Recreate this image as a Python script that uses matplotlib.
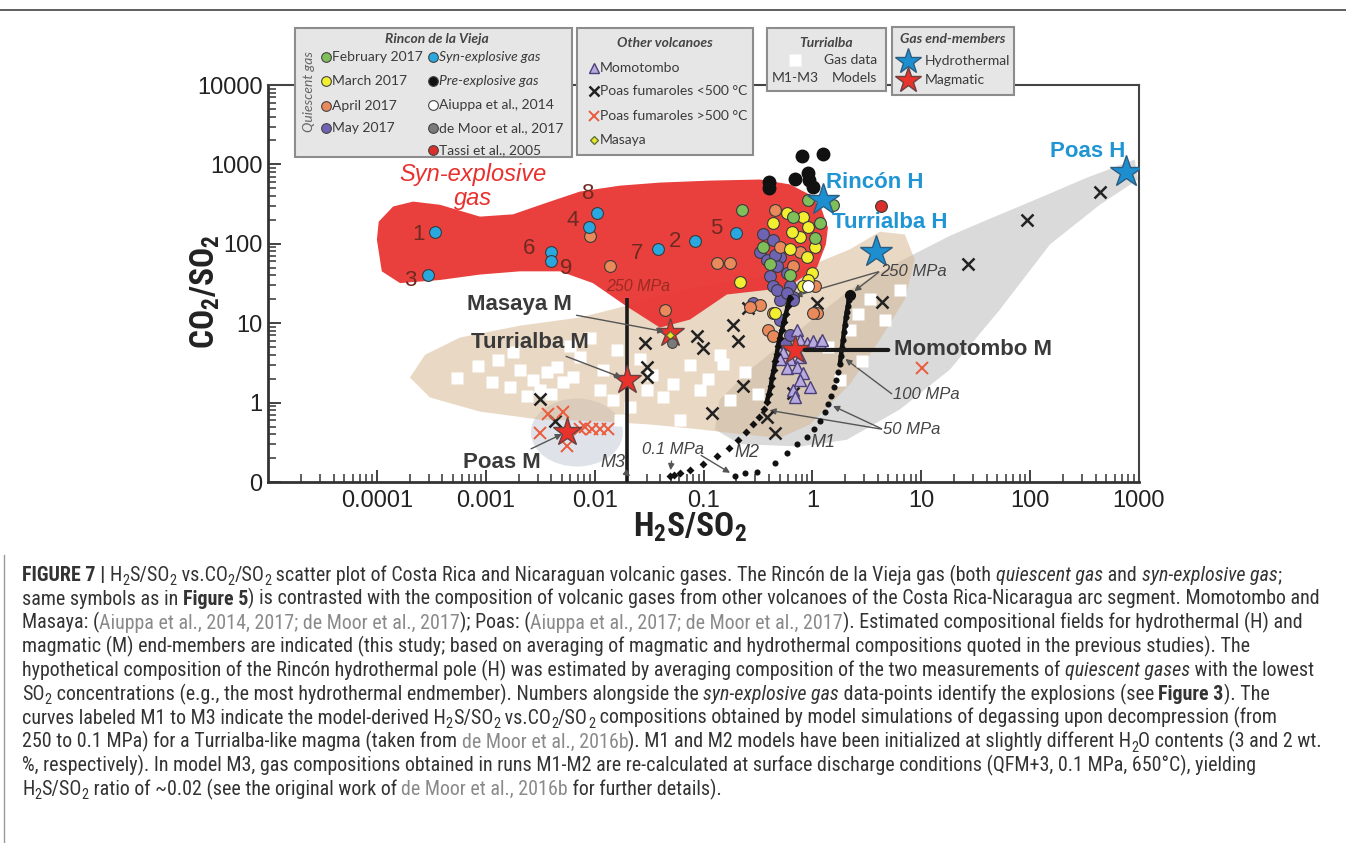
#!/bin/env python3
import re
import matplotlib
matplotlib.use('Agg')
import matplotlib.pyplot as plt
from matplotlib.lines import Line2D
from matplotlib.patches import Polygon, Rectangle, Ellipse
from matplotlib.ticker import FixedLocator, FixedFormatter, LogLocator, NullFormatter
from matplotlib import transforms, font_manager

W, H = 1346, 843

# ---------------- axis ticks ----------------
x_ticks = [1e-4, 1e-3, 1e-2, 1e-1, 1, 10, 100, 1000]
x_tick_labels = ['0.0001', '0.001', '0.01', '0.1', '1', '10', '100', '1000']
y_ticks = [0.1, 1, 10, 100, 1000, 10000]
y_tick_labels = ['0', '1', '10', '100', '1000', '10000']

# ---------------- compositional fields (outlines, H2S/SO2 vs CO2/SO2) ----------------
gray_x = [915, 332, 123, 36.8, 18.3, 6.36, 2.21, 0.767, 0.267, 0.141, 0.127, 0.216, 0.767, 2.07,
          6.36, 18.3, 52.7, 152, 436, 975]
gray_y = [1150, 680, 380, 190, 126, 60, 26.5, 8.3, 2.6, 1.09, 0.46, 0.30, 0.28, 0.34,
          0.82, 2.6, 14.8, 98, 310, 645]
tan_x = [2.01e-4, 2.77e-4, 5.8e-4, 2.06e-3, 7.33e-3, 0.0211, 0.0607, 0.216, 0.767, 2.21, 4.17, 7.07,
         8.73, 7.07, 4.17, 2.21, 0.949, 0.503, 0.216, 0.0927, 0.0322, 0.0112, 3.15e-3, 8.85e-4, 3.07e-4]
tan_y = [2.07, 4.0, 6.6, 9.3, 11.8, 17, 26, 35, 47, 85, 142, 131,
         63, 20, 6.2, 1.7, 0.53, 0.36, 0.40, 0.46, 0.53, 0.58, 0.61, 0.77, 1.16]
red_x = [1.0e-4, 1.04e-4, 1.41e-4, 2.15e-4, 3.8e-4, 8.85e-4, 1.78e-3, 3.65e-3, 7.33e-3, 0.0171,
         0.0398, 0.115, 0.330, 0.621, 0.949, 1.22, 1.39, 1.33, 1.10, 0.583, 0.164, 0.075, 0.0398,
         0.0198, 9.64e-3, 4.8e-3, 2.06e-3, 8.85e-4, 3.8e-4, 1.63e-4, 1.11e-4]
red_y = [113, 190, 295, 340, 310, 220, 235, 330, 455, 540,
         590, 625, 645, 560, 415, 270, 160, 98, 50, 28, 23, 11.1, 8.8,
         16.2, 32, 45, 45, 41, 35, 32, 45]
poas_m_field = (6.88e-3, 0.42)

# ---------------- Turrialba gas data ----------------
turri_x = [5.43e-4, 1.14e-3, 1.67e-3, 1.78e-3, 2.06e-3, 2.71e-3, 3.15e-3, 3.65e-3, 4.51e-3, 5.11e-3,
           6.32e-3, 7.33e-3, 9.06e-3, 0.0112, 0.0147, 0.0211, 0.0261, 0.0302, 0.0424, 0.075,
           0.0927, 0.141, 0.175, 0.240, 2.21, 3.37, 4.63, 6.36, 2.85, 1.79, 0.0607, 0.0171,
           8.5e-4, 1.3e-3, 2.4e-3, 4.0e-3, 6.0e-3, 0.012, 0.016, 0.034, 0.052, 0.11, 0.15, 0.32, 1.4, 2.6]
turri_y = [2.07, 1.84, 1.55, 4.3, 2.6, 1.95, 1.46, 2.4, 2.8, 1.8,
           2.1, 3.8, 6.6, 1.46, 1.09, 0.89, 3.5, 1.46, 1.19, 3.0,
           1.46, 4.0, 1.09, 2.45, 8.3, 20, 11.1, 26, 3.3, 1.95, 0.61, 0.61,
           2.9, 3.4, 1.2, 1.3, 5.2, 2.6, 4.6, 2.2, 1.7, 2.0, 3.1, 1.3, 5.0, 13]

# ---------------- Rincon de la Vieja ----------------
feb_x = [0.91, 1.54, 1.17, 0.662, 0.225, 1.05, 0.351, 0.407, 0.621]
feb_y = [360, 310, 185, 220, 270, 120, 92, 55, 41]
mar_x = [0.583, 0.434, 0.818, 0.91, 0.767, 1.05, 0.89, 0.99, 0.91, 0.216, 0.621, 0.453, 0.818, 0.648]
mar_y = [246, 185, 220, 165, 123, 92, 69, 43, 35, 33, 85, 13.5, 29, 142]
apr_x = [0.453, 0.503, 0.767, 0.662, 1.05, 1.10, 0.133, 0.175, 0.0138, 9.06e-3, 0.0442, 0.330,
         0.434, 0.390, 0.434, 0.267, 1.01]
apr_y = [270, 92, 78, 52, 29, 13.6, 58, 58, 52, 126, 14.8, 17,
         13.6, 8.3, 6.8, 15.8, 13.6]
may_x = [0.351, 0.434, 0.330, 0.382, 0.503, 0.472, 0.583, 0.407, 0.621, 0.434, 0.662, 0.503,
         0.284, 0.472, 0.583, 0.503, 0.662, 0.559, 0.621, 0.453]
may_y = [131, 113, 78, 63, 69, 52, 43, 39, 29, 29, 21.6, 19.8,
         18, 26, 24, 11.1, 19.8, 5.4, 7.2, 73]
syn_x = [3.41e-4, 2.94e-4, 3.97e-3, 3.97e-3, 8.87e-3, 0.0105, 0.0381, 0.0834, 0.199]
syn_y = [142, 41, 78, 60, 165, 247, 85, 107, 138]
syn_lab = ['1', '3', '6', '9', '4', '8', '7', '2', '5']
pre_x = [0.399, 0.399, 0.801, 1.25, 0.69, 0.91, 0.93, 1.01]
pre_y = [605, 510, 1290, 1370, 660, 790, 645, 525]
aiuppa_x, aiuppa_y = [0.91], [29]
demoor_x, demoor_y = [0.0513], [5.7]
tassi_x, tassi_y = [4.26], [300]

# ---------------- other volcanoes ----------------
momo_x = [0.721, 0.767, 0.89, 1.01, 1.17, 1.22, 0.536, 0.621, 0.767, 0.583, 0.721, 0.818,
          0.767, 0.949, 0.662, 0.69, 0.503]
momo_y = [8.3, 6.2, 5.7, 5.9, 5.7, 6.2, 4.3, 3.5, 3.8, 2.76, 2.84, 2.39,
          1.95, 1.55, 1.46, 1.19, 3.5]
poas_lo_x = [26.8, 93, 436, 4.35, 1.10, 0.256, 0.186, 0.0869, 0.0987, 0.207, 0.029, 0.0302,
             0.0302, 0.230, 0.119, 0.382, 0.453, 3.15e-3, 4.32e-3, 0.662]
poas_lo_y = [56, 200, 455, 18.7, 18.2, 15.7, 9.6, 6.8, 4.9, 5.9, 5.7, 2.8,
             2.1, 1.6, 0.75, 0.65, 0.42, 1.1, 0.58, 1.34]
poas_hi_x = [3.72e-3, 5.11e-3, 3.15e-3, 5.57e-3, 7.33e-3, 8.15e-3, 9.45e-3, 0.0112, 0.0132, 10.1]
poas_hi_y = [0.71, 0.77, 0.42, 0.28, 0.46, 0.50, 0.46, 0.47, 0.46, 2.75]
masaya_x, masaya_y = [0.049], [7.2]

# ---------------- degassing models ----------------
m1_x = [2.21, 2.16, 2.12, 2.07, 2.03, 1.99, 1.95, 1.91, 1.87, 1.83, 1.79, 1.72, 1.64, 1.58,
        1.48, 1.39, 1.30, 1.17, 1.03, 0.89, 0.721, 0.583, 0.453, 0.309, 0.240, 0.194]
m1_y = [22.9, 19.8, 16.7, 14.0, 11.8, 9.6, 7.8, 6.2, 4.9, 3.9, 3.1, 2.46, 1.95, 1.55,
        1.22, 0.97, 0.77, 0.59, 0.46, 0.37, 0.30, 0.23, 0.175, 0.135, 0.128, 0.12]
m2_x = [0.621, 0.596, 0.571, 0.547, 0.525, 0.503, 0.482, 0.472, 0.453, 0.443, 0.425, 0.416,
        0.399, 0.382, 0.359, 0.323, 0.284, 0.245, 0.207, 0.171, 0.133, 0.0987, 0.075, 0.0607,
        0.0534, 0.0491]
m2_y = [21, 16.7, 13.2, 10.5, 8.3, 6.6, 5.2, 4.1, 3.3, 2.6, 2.07, 1.64,
        1.30, 1.03, 0.82, 0.65, 0.53, 0.43, 0.34, 0.27, 0.215, 0.17, 0.143, 0.131,
        0.124, 0.12]
m3_x = [0.0198, 0.0198]
m3_y = [21, 0.1]

# ---------------- end-members ----------------
hydro_names = ['Rincón H', 'Turrialba H', 'Poas H']
hydro_x = [1.25, 3.83, 757]
hydro_y = [360, 78, 810]
magma_names = ['Masaya M', 'Turrialba M', 'Poas M', 'Momotombo M']
magma_x = [0.0491, 0.0198, 5.57e-3, 0.69]
magma_y = [7.6, 1.95, 0.43, 4.6]

# ---------------- fonts ----------------
fl = font_manager.fontManager.ttflist
names = {f.name for f in fl}
LEG = 'Lato' if 'Lato' in names else 'DejaVu Sans'
CAP_FAMILY, CAP_STRETCH = 'Liberation Sans', 'normal'
for want in ['Liberation Sans Narrow', 'Roboto Condensed', 'Open Sans Condensed', 'Noto Sans Condensed']:
    if want in names:
        CAP_FAMILY = want
        break
else:
    for f in fl:
        if f.name in ('Noto Sans', 'Roboto', 'Open Sans', 'Liberation Sans') and \
                isinstance(f.stretch, str) and f.stretch in ('condensed', 'semi-condensed'):
            CAP_FAMILY, CAP_STRETCH = f.name, f.stretch
            break

plt.rcParams['font.family'] = ['Liberation Sans', 'DejaVu Sans']
plt.rcParams['mathtext.fontset'] = 'custom'
pat = CAP_FAMILY + ('' if CAP_STRETCH == 'normal' else ':stretch=' + CAP_STRETCH)
plt.rcParams['mathtext.rm'] = pat
plt.rcParams['mathtext.it'] = pat + ':italic'
plt.rcParams['mathtext.bf'] = pat + ':bold'

DARK = '#333333'
fig = plt.figure(figsize=(W / 100, H / 100), dpi=100, facecolor='white')
ax = fig.add_axes([268 / W, 1 - 482 / H, (1139 - 268) / W, (482 - 85) / H])
ax.set_xscale('log')
ax.set_yscale('log')
ax.set_xlim(1e-5, 1e3)
ax.set_ylim(0.1, 1e4)

# fields
ax.add_patch(Polygon(list(zip(gray_x, gray_y)), closed=True, fc='#dadada', ec='none', zorder=1))
ell = Ellipse((0, 0), 0.92, 0.68, fc='#dfe3e9', ec='none', zorder=1.2,
              transform=fig.dpi_scale_trans + transforms.ScaledTranslation(*poas_m_field, ax.transData))
ax.add_patch(ell)
ax.add_patch(Polygon(list(zip(tan_x, tan_y)), closed=True, fc='#d8b994', ec='none', alpha=0.55, zorder=2))
ax.add_patch(Polygon(list(zip(red_x, red_y)), closed=True, fc='#e8312f', ec='none', alpha=0.93, zorder=3))

ax.text(7.6e-4, 525, 'Syn-explosive\ngas', color='#e8312f', fontsize=17, style='italic',
        ha='center', va='center', linespacing=1.05, zorder=4)
ax.text(0.025, 29, '250 MPa', color='#9a2a22', fontsize=11.5, style='italic', ha='center',
        va='center', zorder=3.5)

ax.plot(turri_x, turri_y, 's', ms=8, color='white', mec='none', zorder=4)

# models
ax.plot(m3_x, m3_y, color='#1a1a1a', lw=2.6, zorder=5, solid_capstyle='butt')
ax.plot(m1_x[:11], m1_y[:11], color='#111', lw=3.2, zorder=7)
ax.plot(m1_x, m1_y, 'o', ms=4.4, color='#111', mec='none', zorder=7)
ax.plot(m1_x[:1], m1_y[:1], 'o', ms=7, color='#111', zorder=7)
ax.plot(m2_x[:14], m2_y[:14], color='#111', lw=3.2, zorder=7)
ax.plot(m2_x, m2_y, 'D', ms=4.4, color='#111', mec='none', zorder=7)

# data
ek = dict(mec='#3a3a3a', mew=0.8, ms=8.5, ls='none', zorder=6)
ax.plot(poas_lo_x, poas_lo_y, 'x', color='#222', ms=8, mew=1.8, ls='none', zorder=6)
ax.plot(poas_hi_x, poas_hi_y, 'x', color='#ec5a3c', ms=8, mew=1.4, ls='none', zorder=6)
ax.plot(may_x, may_y, 'o', color='#6f63b3', **ek)
ax.plot(apr_x, apr_y, 'o', color='#ea8a5a', **ek)
ax.plot(mar_x, mar_y, 'o', color='#f2ee30', **ek)
ax.plot(feb_x, feb_y, 'o', color='#7fbf5a', **ek)
ax.plot(momo_x, momo_y, '^', color='#b6aadf', mec='#4b3f7a', mew=1, ms=8.5, ls='none', zorder=6.5)
ax.plot(aiuppa_x, aiuppa_y, 'o', color='white', **ek)
ax.plot(pre_x, pre_y, 'o', color='#111', mec='#111', ms=9, ls='none', zorder=6)
ax.plot(syn_x, syn_y, 'o', color='#29a8e0', **ek)
ax.plot(tassi_x, tassi_y, 'o', color='#d9302c', **ek)
offsets = {'1': (-12, -2), '3': (-13, -4), '6': (-16, 3), '9': (11, -5), '4': (-12, 4),
           '8': (-6, 14), '7': (-15, -3), '2': (-14, 0), '5': (-14, 3)}
for x, y, s in zip(syn_x, syn_y, syn_lab):
    ax.annotate(s, (x, y), xytext=offsets[s], textcoords='offset points', color='#6e2a20',
                fontsize=16, ha='center', va='center', zorder=6)

# end-members
ax.plot(magma_x, magma_y, '*', ms=21, color='#e8322b', mec='#6b4040', mew=1, ls='none', zorder=8)
ax.plot(masaya_x, masaya_y, 'D', ms=4, color='#e6e62a', mec='#556b2f', mew=0.8, zorder=8.5)
ax.plot(demoor_x, demoor_y, 'o', color='#7a7a7a', mec='#444', mew=0.8, ms=7, zorder=8.5)
ax.plot(hydro_x, hydro_y, '*', ms=24, color='#1d8fd0', mec='#2b5d80', mew=1, ls='none', zorder=8)

# labels
blue = '#1f95d4'
for s, pos in zip(hydro_names, [(3.75, 590), (5.15, 185), (339, 1450)]):
    ax.text(*pos, s, color=blue, fontsize=16, weight='bold', ha='center', va='center', zorder=9)

arr = dict(arrowstyle='-|>', color='#555', lw=1, mutation_scale=9, shrinkA=1, shrinkB=4)
lab = dict(fontsize=16, weight='bold', color='#3a3a3a', ha='center', va='center', zorder=9)
ax.annotate('Masaya M', (magma_x[0], magma_y[0]), xytext=(2.06e-3, 17.1), arrowprops=arr, **lab)
ax.annotate('Turrialba M', (magma_x[1], magma_y[1]), xytext=(2.55e-3, 5.7), arrowprops=arr, **lab)
ax.annotate('Poas M', (magma_x[2], magma_y[2]), xytext=(1.41e-3, 0.175), arrowprops=arr, **lab)
ax.annotate('Momotombo M', (magma_x[3], magma_y[3]), xytext=(5.6, 4.6),
            arrowprops=dict(arrowstyle='-', color='#1a1a1a', lw=3, shrinkA=2, shrinkB=7),
            **{**lab, 'ha': 'left'})

it = dict(fontsize=12, style='italic', color='#444', va='center', zorder=9)
ax.text(4.17, 45, '250 MPa', ha='left', **it)
ax.annotate('', (m2_x[0], m2_y[0]), xytext=(4.17, 45), arrowprops=arr)
ax.annotate('', (m1_x[0], m1_y[0]), xytext=(4.17, 45), arrowprops=arr)
ax.text(5.48, 1.26, '100 MPa', ha='left', **it)
ax.annotate('', (m1_x[9], m1_y[9]), xytext=(5.48, 1.26), arrowprops=arr)
ax.text(4.44, 0.46, '50 MPa', ha='left', **it)
ax.annotate('', (m2_x[14], m2_y[14]), xytext=(4.44, 0.46), arrowprops=arr)
ax.annotate('', (m1_x[15], m1_y[15]), xytext=(4.44, 0.46), arrowprops=arr)
ax.annotate('0.1 MPa', (m2_x[-1], m2_y[-1]), xytext=(0.0524, 0.257), ha='center', arrowprops=arr, **it)
ax.annotate('', (m1_x[-1], m1_y[-1]), xytext=(0.0927, 0.221), arrowprops=arr)
it2 = {**it, 'fontsize': 13}
ax.annotate('M3', (0.0212, 0.118), xytext=(0.0147, 0.175), ha='center', arrowprops=arr, **it2)
ax.text(0.250, 0.234, 'M2', ha='center', **it2)
ax.text(1.25, 0.31, 'M1', ha='center', **it2)

# axes styling
for side in ['left', 'bottom']:
    ax.spines[side].set_linewidth(2)
    ax.spines[side].set_color(DARK)
for side in ['top', 'right']:
    ax.spines[side].set_linewidth(1.5)
    ax.spines[side].set_color('#444')
ax.xaxis.set_major_locator(FixedLocator(x_ticks))
ax.xaxis.set_major_formatter(FixedFormatter(x_tick_labels))
ax.yaxis.set_major_locator(FixedLocator(y_ticks))
ax.yaxis.set_major_formatter(FixedFormatter(y_tick_labels))
for a in [ax.xaxis, ax.yaxis]:
    a.set_minor_locator(LogLocator(base=10, subs=range(2, 10), numticks=20))
    a.set_minor_formatter(NullFormatter())
ax.tick_params(which='major', direction='in', length=9, width=1.3, color=DARK, labelsize=17,
               labelcolor='#222')
ax.tick_params(which='minor', direction='in', length=5.5, width=1.1, color=DARK)
ax.tick_params(axis='x', pad=6)
ax.tick_params(axis='y', pad=4)
ax.set_xlabel(r'$\mathbf{H_2S/SO_2}$', fontsize=24, color='#222', va='center')
ax.xaxis.set_label_coords((690 - 268) / 871, (482 - 527) / 397)
ax.set_ylabel(r'$\mathbf{CO_2/SO_2}$', fontsize=24, color='#222', va='center')
ax.yaxis.set_label_coords((205 - 268) / 871, (482 - 292) / 397)


# ---------------- legend panels (figure pixels) ----------------
def fx(px):
    return px / W


def fy(py):
    return 1 - py / H


def box(x0, y0, x1, y1):
    fig.add_artist(Rectangle((fx(x0), fy(y1)), (x1 - x0) / W, (y1 - y0) / H, transform=fig.transFigure,
                             fc='#e6e6e6', ec='#8c8c8c', lw=1.5, zorder=20))


def mark(px, py, **kw):
    fig.add_artist(Line2D([fx(px)], [fy(py)], transform=fig.transFigure, ls='none', zorder=21, **kw))


def label(px, py, s, **kw):
    kw.setdefault('fontsize', 10)
    kw.setdefault('color', '#3a3a3a')
    fig.text(fx(px), fy(py), s, va='center', family=[LEG, 'DejaVu Sans'], zorder=22, **kw)


title = dict(weight='bold', style='italic', ha='center', color='#444')
box(295, 28, 572, 157)
label(437, 39, 'Rincon de la Vieja', **title)
label(309, 92, 'Quiescent gas', rotation=90, ha='center', style='italic', color='#666')
col1 = [('February 2017', '#7fbf5a'), ('March 2017', '#f2ee30'), ('April 2017', '#ea8a5a'),
        ('May 2017', '#6f63b3')]
for (s, c), py in zip(col1, [57, 81, 106, 128]):
    mark(326, py, marker='o', ms=7, color=c, mec='#444', mew=0.8)
    label(332, py, s)
col2 = [('Syn-explosive gas', '#29a8e0', True), ('Pre-explosive gas', '#111', True),
        ('Aiuppa et al., 2014', 'white', False), ('de Moor et al., 2017', '#7a7a7a', False),
        ('Tassi et al., 2005', '#d9302c', False)]
for (s, c, itl), py in zip(col2, [57, 81, 105, 128, 150]):
    mark(433, py, marker='o', ms=7, color=c, mec='#444', mew=0.8)
    label(439, py, s, style='italic' if itl else 'normal')

box(577, 28, 753, 155)
label(665, 43, 'Other volcanoes', **title)
mark(594, 68, marker='^', ms=7.5, color='#b6aadf', mec='#4b3f7a', mew=1)
label(600, 68, 'Momotombo')
mark(594, 91, marker='x', ms=7, color='#222', mew=1.8)
label(600, 91, 'Poas fumaroles <500 °C')
mark(594, 116, marker='x', ms=7, color='#ec5a3c', mew=1.4)
label(600, 116, 'Poas fumaroles >500 °C')
mark(594, 140, marker='D', ms=4.5, color='#e6e62a', mec='#556b2f', mew=0.9)
label(600, 140, 'Masaya')

box(767, 28, 886, 91)
label(826, 43, 'Turrialba', **title)
mark(795, 60, marker='s', ms=8, color='white', mec='none')
label(877, 60, 'Gas data', ha='right')
label(772, 78, 'M1-M3')
label(877, 78, 'Models', ha='right')

box(892, 27, 1014, 95)
label(953, 39, 'Gas end-members', **title)
mark(908, 61, marker='*', ms=19, color='#1d8fd0', mec='#2b5d80', mew=1)
label(925, 61, 'Hydrothermal')
mark(908, 80, marker='*', ms=19, color='#e8322b', mec='#6b4040', mew=1)
label(925, 80, 'Magmatic')

# frame lines
fig.add_artist(Line2D([0, 1], [fy(10), fy(10)], transform=fig.transFigure, color='#444', lw=1.2))
fig.add_artist(Line2D([fx(4), fx(4)], [0, fy(555)], transform=fig.transFigure, color='#999', lw=1))

# ---------------- caption ----------------
N = dict(color='#333')
B = dict(color='#333', weight='bold')
I = dict(color='#333', style='italic')
G = dict(color='#8a8a8a')
caption = [
    [('FIGURE 7 | ', B), ('H_{2}S/SO_{2} vs.CO_{2}/SO_{2} scatter plot of Costa Rica and Nicaraguan volcanic '
                          'gases. The Rincón de la Vieja gas (both ', N), ('quiescent gas', I), (' and ', N),
     ('syn-explosive gas', I), (';', N)],
    [('same symbols as in ', N), ('Figure 5', B),
     (') is contrasted with the composition of volcanic gases from other volcanoes of the Costa '
      'Rica-Nicaragua arc segment. Momotombo and', N)],
    [('Masaya: (', N), ('Aiuppa et al., 2014, 2017; de Moor et al., 2017', G), ('); Poas: (', N),
     ('Aiuppa et al., 2017; de Moor et al., 2017', G),
     ('). Estimated compositional fields for hydrothermal (H) and', N)],
    [('magmatic (M) end-members are indicated (this study; based on averaging of magmatic and '
      'hydrothermal compositions quoted in the previous studies). The', N)],
    [('hypothetical composition of the Rincón hydrothermal pole (H) was estimated by averaging '
      'composition of the two measurements of ', N), ('quiescent gases', I), (' with the lowest', N)],
    [('SO_{2} concentrations (e.g., the most hydrothermal endmember). Numbers alongside the ', N),
     ('syn-explosive gas', I), (' data-points identify the explosions (see ', N), ('Figure 3', B),
     ('). The', N)],
    [('curves labeled M1 to M3 indicate the model-derived H_{2}S/SO_{2} vs.CO_{2}/SO_{2} compositions '
      'obtained by model simulations of degassing upon decompression (from', N)],
    [('250 to 0.1 MPa) for a Turrialba-like magma (taken from ', N), ('de Moor et al., 2016b', G),
     ('). M1 and M2 models have been initialized at slightly different H_{2}O contents (3 and 2 wt.', N)],
    [('%, respectively). In model M3, gas compositions obtained in runs M1-M2 are re-calculated at '
      'surface discharge conditions (QFM+3, 0.1 MPa, 650°C), yielding', N)],
    [('H_{2}S/SO_{2} ratio of ~0.02 (see the original work of ', N), ('de Moor et al., 2016b', G),
     (' for further details).', N)],
]

renderer = fig.canvas.get_renderer()
CAP = dict(family=[CAP_FAMILY, 'DejaVu Sans'], stretch=CAP_STRETCH)


def advance(s, size, kw):
    t1 = fig.text(0, 0, s + '|', fontsize=size, **CAP, **kw)
    t2 = fig.text(0, 0, '|', fontsize=size, **CAP, **kw)
    w = t1.get_window_extent(renderer).width - t2.get_window_extent(renderer).width
    t1.remove()
    t2.remove()
    return w


def run_line(x, y, parts, size, draw=True):
    for s, kw in parts:
        for k, c in enumerate(re.split(r'_\{(.*?)\}', s)):
            if not c:
                continue
            sub = k % 2 == 1
            sz = size * (0.72 if sub else 1)
            if draw:
                fig.text(fx(x), fy(y + (4 if sub else 0)), c, fontsize=sz, va='baseline', **CAP, **kw)
            x += advance(c, sz, kw)
    return x


# fit the widest caption line to the text width of the reference
cap_size = 13.5
widest = max(run_line(22, 0, p, cap_size, draw=False) - 22 for p in caption)
cap_size = cap_size * 1300 / widest
for i, parts in enumerate(caption):
    run_line(22, 581 + i * 23.8, parts, cap_size)

fig.savefig('out.png', dpi=100, facecolor='white')
